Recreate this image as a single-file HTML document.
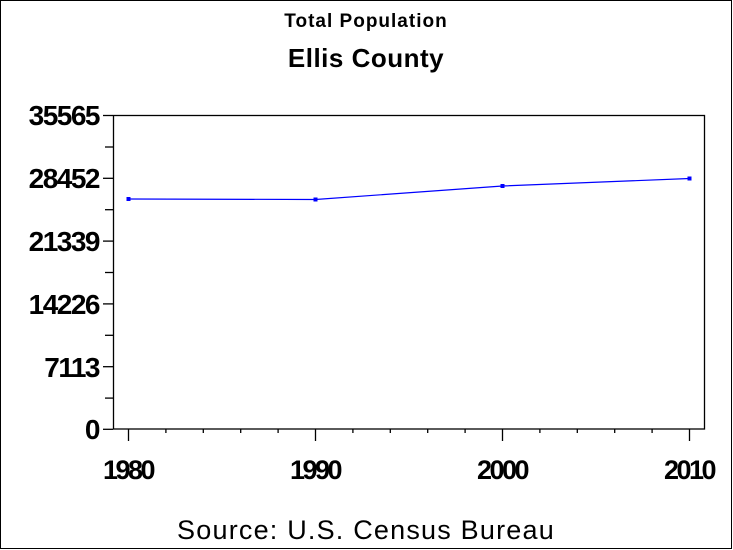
<!DOCTYPE html>
<html><head><style>body{margin:0;background:#fff}svg{display:block}text{font-family:"Liberation Sans",Arial,sans-serif;fill:#000}</style></head>
<body>
<svg width="733" height="550" viewBox="0 0 733 550">
<rect x="0.5" y="0.5" width="731" height="548" fill="#fff" stroke="#000" stroke-width="1"/>
<text x="366" y="27" font-size="19" font-weight="bold" letter-spacing="1" text-anchor="middle">Total Population</text>
<text x="366" y="67" font-size="26" font-weight="bold" letter-spacing="0.5" text-anchor="middle">Ellis County</text>
<rect x="113.5" y="115.5" width="591" height="313.5" fill="none" stroke="#000" stroke-width="1.3"/>
<g stroke="#000" stroke-width="1.3">
<line x1="103" y1="115.5" x2="113" y2="115.5"/><line x1="105" y1="147" x2="113" y2="147"/>
<line x1="103" y1="178.3" x2="113" y2="178.3"/><line x1="105" y1="209.7" x2="113" y2="209.7"/>
<line x1="103" y1="241.1" x2="113" y2="241.1"/><line x1="105" y1="272.5" x2="113" y2="272.5"/>
<line x1="103" y1="303.9" x2="113" y2="303.9"/><line x1="105" y1="335.3" x2="113" y2="335.3"/>
<line x1="103" y1="366.7" x2="113" y2="366.7"/><line x1="105" y1="398.1" x2="113" y2="398.1"/>
<line x1="103" y1="429.3" x2="113" y2="429.3"/>
<line x1="128.5" y1="429" x2="128.5" y2="441"/><line x1="165.9" y1="429" x2="165.9" y2="433"/>
<line x1="203.3" y1="429" x2="203.3" y2="433"/><line x1="240.7" y1="429" x2="240.7" y2="433"/>
<line x1="278.1" y1="429" x2="278.1" y2="433"/><line x1="315.5" y1="429" x2="315.5" y2="441"/>
<line x1="352.9" y1="429" x2="352.9" y2="433"/><line x1="390.3" y1="429" x2="390.3" y2="433"/>
<line x1="427.7" y1="429" x2="427.7" y2="433"/><line x1="465.1" y1="429" x2="465.1" y2="433"/>
<line x1="502.5" y1="429" x2="502.5" y2="441"/><line x1="539.9" y1="429" x2="539.9" y2="433"/>
<line x1="577.3" y1="429" x2="577.3" y2="433"/><line x1="614.7" y1="429" x2="614.7" y2="433"/>
<line x1="652.1" y1="429" x2="652.1" y2="433"/><line x1="689.5" y1="429" x2="689.5" y2="441"/>
</g>
<g font-size="28" font-weight="bold" text-anchor="end" letter-spacing="-1.5">
<text x="99" y="125">35565</text><text x="99" y="188">28452</text>
<text x="99" y="251">21339</text><text x="99" y="314">14226</text>
<text x="99" y="377">7113</text><text x="99" y="439">0</text>
</g>
<g font-size="27" font-weight="bold" text-anchor="middle" letter-spacing="-2.5">
<text x="128" y="479">1980</text><text x="315" y="479">1990</text>
<text x="502" y="479">2000</text><text x="689" y="479">2010</text>
</g>
<polyline points="128.5,199 315.5,199.5 502.5,186 689.5,178.5" fill="none" stroke="#0000ff" stroke-width="1.2"/>
<g fill="#0000ff">
<rect x="126.5" y="197" width="4" height="4"/><rect x="313.5" y="197.5" width="4" height="4"/>
<rect x="500.5" y="184" width="4" height="4"/><rect x="687.5" y="176.5" width="4" height="4"/>
</g>
<text x="366" y="539" font-size="27" letter-spacing="1.2" text-anchor="middle">Source: U.S. Census Bureau</text>
</svg>
</body></html>
